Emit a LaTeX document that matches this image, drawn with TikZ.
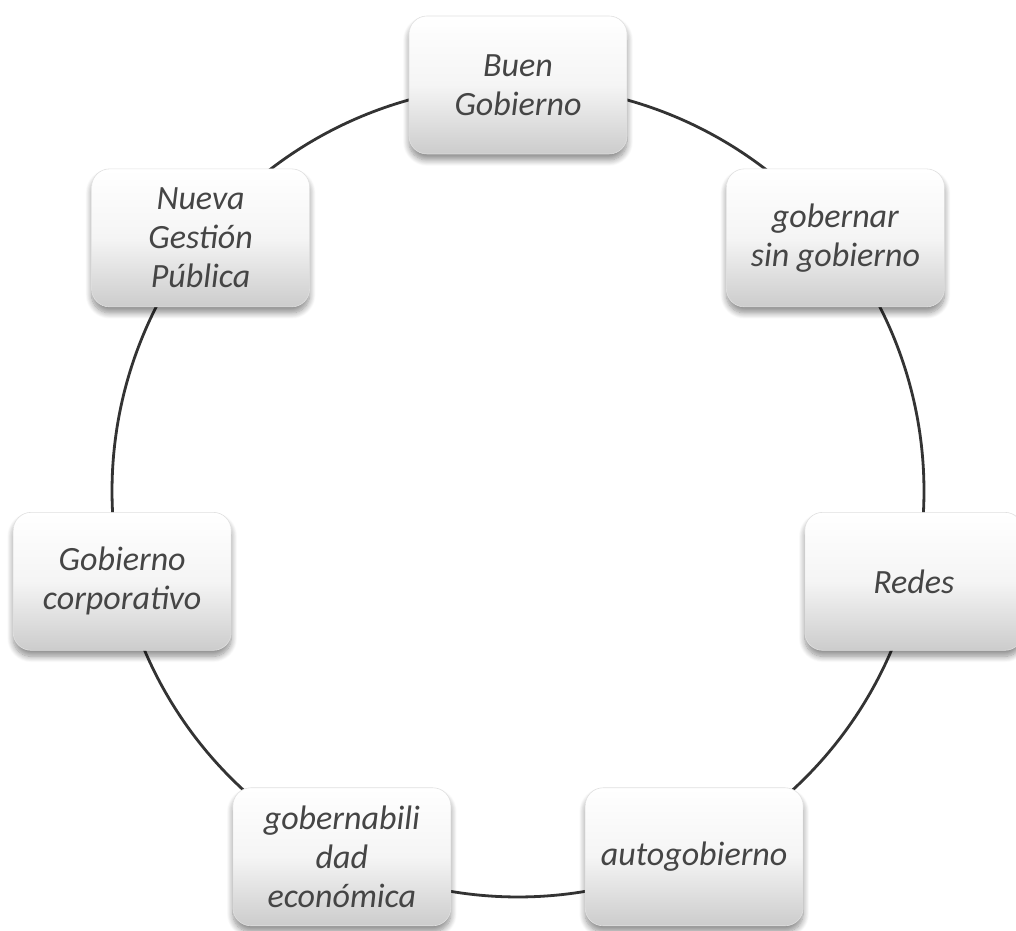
\documentclass[tikz,border=0pt]{standalone}
\usepackage{fontspec}
\setmainfont{Carlito}
\usetikzlibrary{shadows,shadows.blur,backgrounds}
\definecolor{txt}{HTML}{454545}
\definecolor{ln}{HTML}{333333}
\tikzset{
  box/.style={rounded corners=18pt, minimum width=218pt, minimum height=138pt,
    top color=white, bottom color=black!20, middle color=black!4, draw=black!12, line width=0.6pt,
    blur shadow={shadow xshift=0pt, shadow yshift=-6pt, shadow blur radius=6pt, shadow blur steps=10, shadow opacity=45},
    align=center, text=txt, font=\fontsize{34}{39}\selectfont\itshape, inner sep=4pt},
  link/.style={draw=ln, line width=2.8pt}
}
\begin{document}
\begin{tikzpicture}[x=1pt,y=1pt]
\useasboundingbox (0,0) rectangle (1016,930);
\coordinate (c) at (518,439);
\def\R{406}
\path (c) ++(90:\R) coordinate (p1);
\path (c) ++(38.571:\R) coordinate (p2);
\path (c) ++(-12.857:\R) coordinate (p3);
\path (c) ++(-64.286:\R) coordinate (p4);
\path (c) ++(-115.714:\R) coordinate (p5);
\path (c) ++(-167.143:\R) coordinate (p6);
\path (c) ++(141.429:\R) coordinate (p7);
\node[box] (n1) at (p1) {Buen\\Gobierno};
\node[box] (n2) at (p2) {gobernar\\sin gobierno};
\node[box] (n3) at (p3) {Redes};
\node[box] (n4) at (p4) {autogobierno};
\node[box] (n5) at (p5) {gobernabili\\dad\\económica};
\node[box] (n6) at (p6) {Gobierno\\corporativo};
\node[box] (n7) at (p7) {Nueva\\Gestión\\Pública};
\begin{scope}[on background layer]
\draw[link] (n1.center) arc[start angle=90, delta angle=-51.429, radius=\R];
\draw[link] (n2.center) arc[start angle=38.571, delta angle=-51.429, radius=\R];
\draw[link] (n3.center) arc[start angle=-12.857, delta angle=-51.429, radius=\R];
\draw[link] (n4.center) arc[start angle=-64.286, delta angle=-51.429, radius=\R];
\draw[link] (n5.center) arc[start angle=-115.714, delta angle=-51.429, radius=\R];
\draw[link] (n6.center) arc[start angle=-167.143, delta angle=-51.429, radius=\R];
\draw[link] (n7.center) arc[start angle=141.429, delta angle=-51.429, radius=\R];
\end{scope}
\end{tikzpicture}
\end{document}
